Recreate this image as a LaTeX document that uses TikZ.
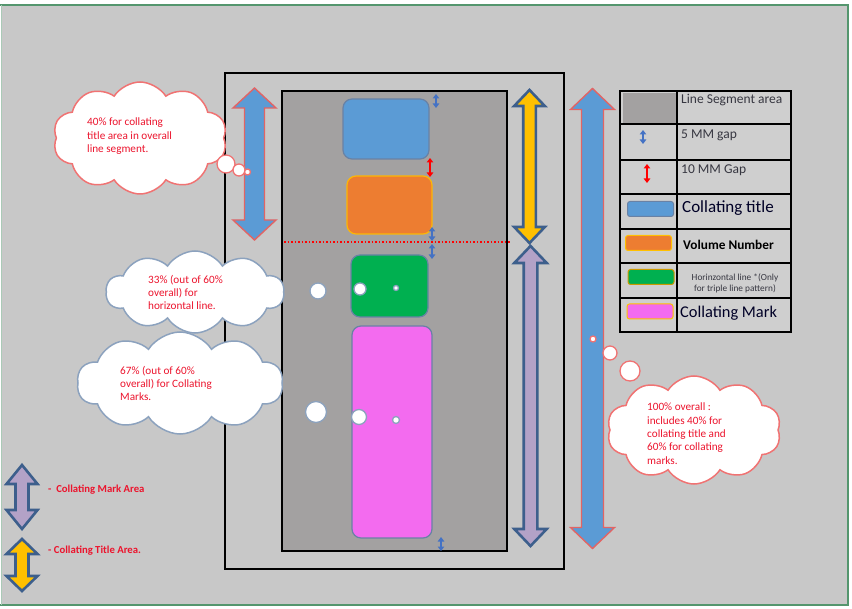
\documentclass[tikz,border=0pt]{standalone}
\usepackage{fontspec}
\setmainfont{Carlito}
\usetikzlibrary{shapes.symbols,arrows.meta}
\definecolor{bggray}{RGB}{200,200,200}
\definecolor{seggray}{RGB}{163,161,161}
\definecolor{cellgray}{RGB}{207,207,207}
\definecolor{frameg}{RGB}{84,150,110}
\definecolor{cblue}{RGB}{91,155,213}
\definecolor{corange}{RGB}{237,125,49}
\definecolor{cgreen}{RGB}{0,176,80}
\definecolor{cpink}{RGB}{243,107,239}
\definecolor{cyellow}{RGB}{255,192,0}
\definecolor{clav}{RGB}{179,162,199}
\definecolor{darkout}{RGB}{61,95,140}
\definecolor{redout}{RGB}{226,100,100}
\definecolor{cloudred}{RGB}{240,115,115}
\definecolor{cloudblue}{RGB}{140,162,190}
\definecolor{boxline}{RGB}{105,130,165}
\definecolor{gapblue}{RGB}{68,114,196}
\definecolor{txtred}{RGB}{236,20,45}
\definecolor{legtxt}{RGB}{55,55,65}
\newcommand\VDArrow[7]{%
  \draw[#1] (#2,#3) -- ({#2+#6},{#3+#7}) -- ({#2+#5},{#3+#7}) -- ({#2+#5},{#4-#7})
    -- ({#2+#6},{#4-#7}) -- (#2,#4) -- ({#2-#6},{#4-#7}) -- ({#2-#5},{#4-#7})
    -- ({#2-#5},{#3+#7}) -- ({#2-#6},{#3+#7}) -- cycle;}
\tikzset{
  mbox/.style={draw=boxline, line width=1.2pt, rounded corners=9pt},
  swatch/.style={line width=1pt, rounded corners=2.5pt, minimum width=46pt, minimum height=15pt},
  puff/.style={cloud, cloud puffs=10, cloud puff arc=115, cloud ignores aspect, fill=white, line width=1.5pt},
  ctext/.style={anchor=north west, inner sep=0pt, align=left, text=txtred, font=\fontsize{11.2}{13.3}\selectfont},
  bubred/.style={draw=cloudred, fill=white, line width=1.3pt},
  bubblue/.style={draw=cloudblue, fill=white, line width=1.3pt},
  gaparrow/.style={line width=1.3pt, >={Triangle[length=4.5pt,width=6.5pt]}, <->},
  redarr/.style={fill=cblue, draw=redout, line width=1.4pt, line join=miter},
  bluearr/.style={draw=darkout, line width=2.6pt, line join=miter},
  legt/.style={anchor=north west, inner sep=0pt, text=legtxt},
}
\begin{document}
\begin{tikzpicture}[x=1pt,y=-1pt]
\useasboundingbox (0,0) rectangle (852,609);
\fill[white] (0,0) rectangle (852,609);
\fill[bggray] (2,6) rectangle (847,604);
\draw[frameg, line width=1.6pt] (0,5) -- (848,5) -- (848,605) -- (0,605);
\draw[frameg!50!white, line width=0.8pt] (1,5) -- (1,605);

% outer and inner frames
\draw[black, line width=2pt] (225,73) rectangle (564,569);
\draw[black, line width=1.5pt, fill=seggray] (282,91) rectangle (507,551);

% boxes
\node[mbox, fill=cblue, minimum width=86pt, minimum height=60pt] (ctitle) at (386,129) {};
\node[mbox, fill=corange, draw=cyellow!85!corange, minimum width=85pt, minimum height=58pt] (volnum) at (389.5,205) {};
\node[mbox, fill=cgreen, minimum width=77pt, minimum height=62pt] (hline) at (389.5,286) {};
\node[mbox, fill=cpink, minimum width=80pt, minimum height=212pt] (cmark) at (392,432) {};

% dotted separator
\draw[red, line width=1.5pt, dotted] (284,242) -- (511,242);

% gap arrows
\draw[gaparrow, gapblue] (436,94) -- (436,108);
\draw[gaparrow, red] (430,158) -- (430,177);
\draw[gaparrow, gapblue] (432,227) -- (432,241);
\draw[gaparrow, gapblue] (432,244) -- (432,259);
\draw[gaparrow, gapblue] (441,537) -- (441,551);

% big arrows
\VDArrow{redarr}{254.5}{88}{240}{10}{21.5}{20}
\VDArrow{bluearr, fill=cyellow}{529.5}{90}{243}{6.3}{15.3}{16}
\VDArrow{bluearr, fill=clav}{530.5}{246}{546}{6.8}{16.2}{17}
\VDArrow{redarr}{592.5}{88.5}{548.5}{11}{22}{21}

% clouds
\node[puff, draw=cloudred, minimum width=174pt, minimum height=112pt] (cloudA) at (140,138) {};
\draw[bubred] (226,164) circle (9);
\draw[bubred] (239,170) circle (6);
\draw[bubred] (247.5,172) circle (3);
\node[ctext] (textA) at (87,118) {40\% for collating\\title area in overall\\line segment.};

\node[puff, draw=cloudblue, minimum width=178pt, minimum height=82pt] (cloudB) at (195,292) {};
\draw[bubblue] (318,291) circle (8);
\draw[bubblue] (360,289) circle (6);
\draw[bubblue] (396,288) circle (2.5);
\node[ctext] (textB) at (148,275) {33\% (out of 60\%\\overall) for\\horizontal line.};

\node[puff, draw=cloudblue, minimum width=206pt, minimum height=102pt] (cloudC) at (180,383) {};
\draw[bubblue] (316,412) circle (10.5);
\draw[bubblue] (359,417) circle (7.5);
\draw[bubblue] (396,420) circle (3.5);
\node[ctext] (textC) at (120,366) {67\% (out of 60\%\\overall) for Collating\\Marks.};

\node[puff, draw=cloudred, minimum width=174pt, minimum height=108pt] (cloudD) at (694,430) {};
\draw[bubred] (593,339) circle (3);
\draw[bubred] (610,353) circle (7);
\draw[bubred] (630,371) circle (10);
\node[ctext] (textD) at (647,403) {100\% overall :\\includes 40\% for\\collating title and\\60\% for collating\\marks.};

% legend table
\fill[cellgray] (620,91) rectangle (791,332);
\fill[seggray] (623,93) rectangle (676,123);
\draw[black, line width=1.8pt] (620,91) rectangle (791,332);
\draw[black, line width=1.8pt] (677,91) -- (677,332);
\foreach \yy in {124,160,194,229,263,298}{\draw[black, line width=1.8pt] (620,\yy) -- (791,\yy);}
\draw[gaparrow, gapblue] (643,130) -- (643,144);
\draw[gaparrow, red] (647,164) -- (647,183);
\node[swatch, fill=cblue, draw=boxline] (swA) at (650.5,209) {};
\node[swatch, fill=corange, draw=cyellow] (swB) at (648.5,243) {};
\node[swatch, fill=cgreen, draw=cyellow!80!black] (swC) at (651,277) {};
\node[swatch, fill=cpink, draw=cyellow] (swD) at (650,311.5) {};
\node[legt, font=\fontsize{13.5}{15}\selectfont] (lA) at (681,94) {Line Segment area};
\node[legt, font=\fontsize{13.5}{15}\selectfont] (lB) at (681,130) {5 MM gap};
\node[legt, font=\fontsize{13.5}{15}\selectfont] (lC) at (681,165) {10 MM Gap};
\node[legt, text=black!85!blue, font=\fontsize{17}{19}\selectfont] (lD) at (682,200) {Collating title};
\node[legt, text=black, font=\bfseries\fontsize{13.3}{15}\selectfont] (lE) at (683,240) {Volume Number};
\node[anchor=north, inner sep=0pt, align=center, text=legtxt, font=\fontsize{9.3}{11}\selectfont] (lF) at (735,274) {Horinzontal line *(Only\\for triple line pattern)};
\node[legt, text=black!85!blue, font=\fontsize{16.4}{19}\selectfont] (lG) at (680,306) {Collating Mark};

% bottom-left key
\VDArrow{bluearr, fill=clav}{22}{465}{529}{6.5}{15.5}{19}
\VDArrow{bluearr, fill=cyellow}{22}{539}{591}{6.5}{15.5}{15}
\node[anchor=north west, inner sep=0pt, text=txtred, font=\bfseries\fontsize{10.7}{13}\selectfont] (kA) at (48,485) {-\ \ Collating Mark Area};
\node[anchor=north west, inner sep=0pt, text=txtred, font=\bfseries\fontsize{10.7}{13}\selectfont] (kB) at (48,546) {- Collating Title Area.};
\end{tikzpicture}
\end{document}
